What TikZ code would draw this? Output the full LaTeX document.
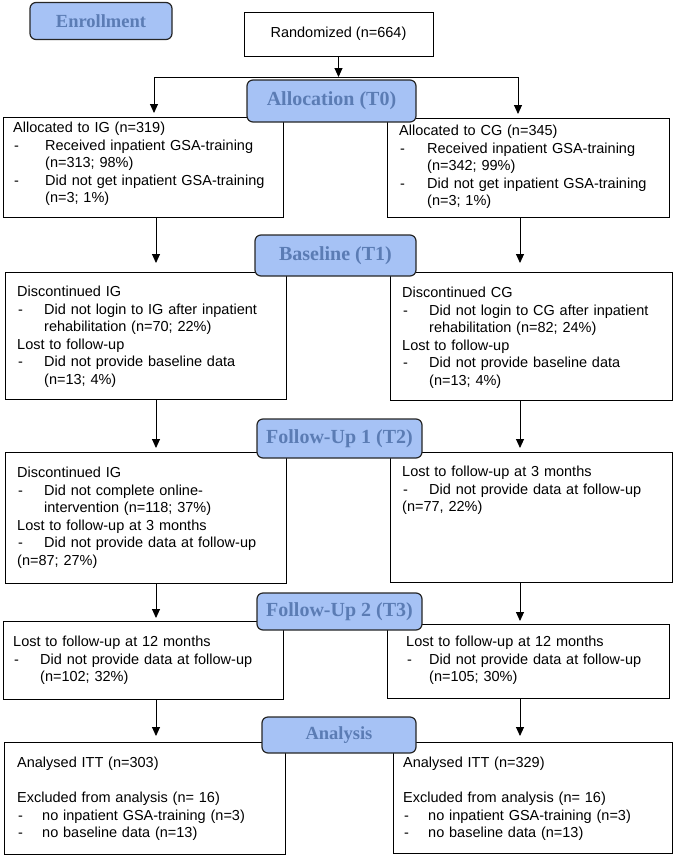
\documentclass[tikz,border=0pt]{standalone}
\usepackage{fontspec}
\setmainfont{Liberation Sans}
\newfontfamily\phasefont{Liberation Serif}
\usetikzlibrary{arrows.meta}

\definecolor{phasefill}{RGB}{166,194,245}
\definecolor{phasetext}{RGB}{91,124,180}

\newlength{\dashind}
\setlength{\dashind}{27pt}
\newcommand{\dashitem}[1]{\makebox[\dashind][l]{\hspace{1pt}-}#1}
\newcommand{\hang}{\hspace*{\dashind}}

\tikzset{
  flowbox/.style={draw, line width=0.9pt, inner sep=0pt, outer sep=0pt},
  boxtext/.style={anchor=base west, inner sep=0pt, align=left, text width=270pt,
    font=\fontsize{14.5}{17.5}\selectfont},
  phase/.style={draw=black!85, line width=1.2pt, rounded corners=6pt, fill=phasefill,
    text=phasetext, inner sep=0pt, font=\phasefont\bfseries\fontsize{20}{24}\selectfont},
  smallphase/.style={phase, font=\phasefont\bfseries\fontsize{18.5}{22}\selectfont},
  flowarrow/.style={-{Triangle[length=9pt,width=8pt]}, line width=0.9pt, shorten >=4pt}
}

\begin{document}
\begin{tikzpicture}[x=1pt,y=-1pt]
\useasboundingbox (0,0) rectangle (675,857);

% boxes
\node[flowbox, minimum width=189pt, minimum height=44pt, font=\fontsize{14.5}{17.5}\selectfont] (rand) at (338.5,34) {Randomized (n=664)};

\node[flowbox, minimum width=280pt, minimum height=100pt] (allocIG) at (143,167) {};
\node[flowbox, minimum width=282pt, minimum height=99pt] (allocCG) at (528,167.5) {};
\node[flowbox, minimum width=281pt, minimum height=127pt] (baseIG) at (145.5,335.5) {};
\node[flowbox, minimum width=282pt, minimum height=128pt] (baseCG) at (531,336) {};
\node[flowbox, minimum width=281pt, minimum height=131pt] (fuoneIG) at (145.5,517.5) {};
\node[flowbox, minimum width=282pt, minimum height=130pt] (fuoneCG) at (531,517) {};
\node[flowbox, minimum width=280pt, minimum height=78pt] (futwoIG) at (143,660) {};
\node[flowbox, minimum width=282pt, minimum height=74pt] (futwoCG) at (528,661) {};
\node[flowbox, minimum width=281pt, minimum height=112pt] (anaIG) at (144.5,798) {};
\node[flowbox, minimum width=279pt, minimum height=111pt] (anaCG) at (532.5,797.5) {};

% box texts
\node[boxtext] (allocIGtxt) at ([xshift=10pt,yshift=-15.5pt]allocIG.north west) {\setlength{\dashind}{32pt}%
Allocated to IG (n=319)\\
\dashitem{Received inpatient GSA-training}\\
\hang(n=313; 98\%)\\
\dashitem{Did not get inpatient GSA-training}\\
\hang(n=3; 1\%)};
\node[boxtext] (allocCGtxt) at ([xshift=12pt,yshift=-17.5pt]allocCG.north west) {\setlength{\dashind}{28pt}%
Allocated to CG (n=345)\\
\dashitem{Received inpatient GSA-training}\\
\hang(n=342; 99\%)\\
\dashitem{Did not get inpatient GSA-training}\\
\hang(n=3; 1\%)};

\node[boxtext] (baseIGtxt) at ([xshift=12pt,yshift=-24.5pt]baseIG.north west) {Discontinued IG\\
\dashitem{Did not login to IG after inpatient}\\
\hang rehabilitation (n=70; 22\%)\\
Lost to follow-up\\
\dashitem{Did not provide baseline data}\\
\hang(n=13; 4\%)};
\node[boxtext] (baseCGtxt) at ([xshift=12pt,yshift=-25.5pt]baseCG.north west) {Discontinued CG\\
\dashitem{Did not login to CG after inpatient}\\
\hang rehabilitation (n=82; 24\%)\\
Lost to follow-up\\
\dashitem{Did not provide baseline data}\\
\hang(n=13; 4\%)};

\node[boxtext] (fuoneIGtxt) at ([xshift=12pt,yshift=-25.5pt]fuoneIG.north west) {Discontinued IG\\
\dashitem{Did not complete online-}\\
\hang intervention (n=118; 37\%)\\
Lost to follow-up at 3 months\\
\dashitem{Did not provide data at follow-up}\\
(n=87; 27\%)};
\node[boxtext] (fuoneCGtxt) at ([xshift=12pt,yshift=-24.5pt]fuoneCG.north west) {Lost to follow-up at 3 months\\
\dashitem{Did not provide data at follow-up}\\
(n=77, 22\%)};

\node[boxtext] (futwoIGtxt) at ([xshift=10pt,yshift=-25.5pt]futwoIG.north west) {Lost to follow-up at 12 months\\
\dashitem{Did not provide data at follow-up}\\
\hang(n=102; 32\%)};
\node[boxtext] (futwoCGtxt) at ([xshift=19pt,yshift=-22.5pt]futwoCG.north west) {\setlength{\dashind}{23pt}%
Lost to follow-up at 12 months\\
\dashitem{Did not provide data at follow-up}\\
\hang(n=105; 30\%)};

\node[boxtext] (anaIGtxt) at ([xshift=13pt,yshift=-25.5pt]anaIG.north west) {\setlength{\dashind}{25pt}%
Analysed ITT (n=303)\\[17.5pt]
Excluded from analysis (n= 16)\\
\dashitem{no inpatient GSA-training (n=3)}\\
\dashitem{no baseline data (n=13)}};
\node[boxtext] (anaCGtxt) at ([xshift=10pt,yshift=-25.5pt]anaCG.north west) {\setlength{\dashind}{25pt}%
Analysed ITT (n=329)\\[17.5pt]
Excluded from analysis (n= 16)\\
\dashitem{no inpatient GSA-training (n=3)}\\
\dashitem{no baseline data (n=13)}};

% connectors
\coordinate (splitL) at (154,77);
\coordinate (splitR) at (518,77);
\coordinate (colL) at (156,0);
\coordinate (colR) at (520,0);

\draw[flowarrow, shorten >=0pt] (rand.south) -- (rand.south |- splitL);
\draw[line width=0.9pt] (splitL) -- (splitR);
\draw[flowarrow] (splitL) -- (splitL |- allocIG.north);
\draw[flowarrow] (splitR) -- (splitR |- allocCG.north);

\draw[flowarrow, shorten >=9pt] (allocIG.south -| colL) -- (baseIG.north -| colL);
\draw[flowarrow, shorten >=9pt] (allocCG.south -| colR) -- (baseCG.north -| colR);
\draw[flowarrow] (baseIG.south -| colL) -- (fuoneIG.north -| colL);
\draw[flowarrow] (baseCG.south -| colR) -- (fuoneCG.north -| colR);
\draw[flowarrow, shorten >=3pt] (fuoneIG.south -| colL) -- (futwoIG.north -| colL);
\draw[flowarrow, shorten >=3pt] (fuoneCG.south -| colR) -- (futwoCG.north -| colR);
\draw[flowarrow, shorten >=6pt] (futwoIG.south -| colL) -- (anaIG.north -| colL);
\draw[flowarrow, shorten >=6pt] (futwoCG.south -| colR) -- (anaCG.north -| colR);

% phase labels
\node[smallphase, minimum width=142pt, minimum height=37pt] (enroll) at (101,21) {Enrollment};
\node[phase, minimum width=169pt, minimum height=42pt] (allocT) at (331.5,101) {Allocation (T0)};
\node[phase, minimum width=161pt, minimum height=41pt] (baseT) at (335.5,255.5) {Baseline (T1)};
\node[phase, minimum width=165pt, minimum height=39pt] (fuoneT) at (339.5,438.5) {Follow-Up 1 (T2)};
\node[phase, minimum width=165pt, minimum height=37pt] (futwoT) at (339.5,611.5) {Follow-Up 2 (T3)};
\node[smallphase, minimum width=154pt, minimum height=36pt] (anaT) at (339,735) {Analysis};
\end{tikzpicture}
\end{document}
